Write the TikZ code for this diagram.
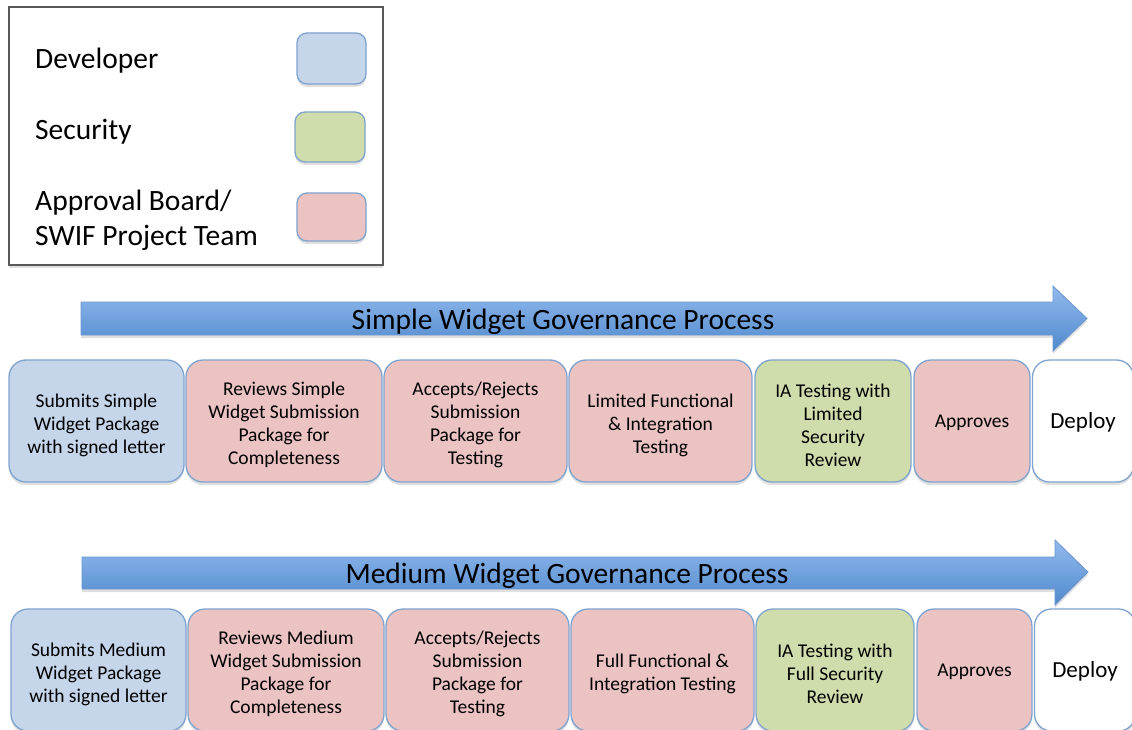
\documentclass[tikz,border=0pt]{standalone}
\usepackage{fontspec}
\setmainfont{Carlito}
\usetikzlibrary{shadows}
\definecolor{devfill}{HTML}{C5D5EA}
\definecolor{secfill}{HTML}{CFDDAC}
\definecolor{appfill}{HTML}{EBC3C3}
\definecolor{edgeblue}{HTML}{7FA3CF}
\definecolor{arrtop}{HTML}{92BAEE}
\definecolor{arrbot}{HTML}{5089CC}
\definecolor{arredge}{HTML}{6A96CF}
\begin{document}
\begin{tikzpicture}[x=1pt,y=-1pt,
  softshadow/.style={drop shadow={opacity=0.25,shadow xshift=0pt,shadow yshift=-3pt}},
  stepbox/.style={draw=edgeblue,line width=1.3pt,rounded corners=17pt,inner sep=0pt,minimum height=122pt,softshadow},
  steptext/.style={align=center,font=\fontsize{19.5}{23}\selectfont,inner sep=0pt,yshift=-4pt},
  onetext/.style={align=center,font=\fontsize{19.5}{23}\selectfont,inner sep=0pt,yshift=-2pt},
  deptext/.style={align=center,font=\fontsize{23}{27}\selectfont,inner sep=0pt,yshift=-1pt},
  swatch/.style={draw=edgeblue,line width=1.3pt,rounded corners=10pt,inner sep=0pt,softshadow},
  legtext/.style={anchor=west,align=left,font=\fontsize{29.5}{35}\selectfont,inner sep=0pt},
  arrtext/.style={font=\fontsize{29.5}{34}\selectfont,inner sep=0pt},
  dev/.style={stepbox,fill=devfill},
  sec/.style={stepbox,fill=secfill},
  app/.style={stepbox,fill=appfill},
  dep/.style={stepbox,fill=white},
  govarrow/.style={top color=arrtop,bottom color=arrbot,draw=arredge,line width=0.8pt,softshadow}
]
\useasboundingbox (0,0) rectangle (1132,730);
\begin{scope}
\clip (0,0) rectangle (1132,730);

% Legend
\node[draw=black!65,line width=1.3pt,fill=white,minimum width=374pt,minimum height=258pt,inner sep=0pt,softshadow] (legend) at (196,136) {};
\node[legtext] (ldev) at (35,61) {Developer};
\node[legtext] (lsec) at (35,132) {Security};
\node[legtext] (lapp) at (35,220) {Approval Board/\\SWIF Project Team};
\node[swatch,fill=devfill,minimum width=69pt,minimum height=51pt] (sdev) at (331.5,58.5) {};
\node[swatch,fill=secfill,minimum width=70pt,minimum height=50pt] (ssec) at (330,137) {};
\node[swatch,fill=appfill,minimum width=69pt,minimum height=48pt] (sapp) at (331.5,217) {};

% Arrow 1
\path[govarrow] (81,302) -- (1053,302) -- (1053,286) -- (1087,318.5) -- (1053,351) -- (1053,335) -- (81,335) -- cycle;
\node[arrtext] (t1) at (563,322) {Simple Widget Governance Process};

% Row 1
\node[dev,minimum width=175pt] (s1) at (96.5,421) {};
\node[app,minimum width=196pt] (s2) at (284,421) {};
\node[app,minimum width=183pt] (s3) at (475.5,421) {};
\node[app,minimum width=183pt] (s4) at (660.5,421) {};
\node[sec,minimum width=156pt] (s5) at (833,421) {};
\node[app,minimum width=116pt] (s6) at (972,421) {};
\node[dep,minimum width=101pt] (s7) at (1083,421) {};
\node[steptext] (s1t) at (s1) {Submits Simple\\Widget Package\\with signed letter};
\node[steptext] (s2t) at (s2) {Reviews Simple\\Widget Submission\\Package for\\Completeness};
\node[steptext] (s3t) at (s3) {Accepts/Rejects\\Submission\\Package for\\Testing};
\node[steptext] (s4t) at (s4) {Limited Functional\\\& Integration\\Testing};
\node[steptext] (s5t) at (s5) {IA Testing with\\Limited\\Security\\Review};
\node[onetext] (s6t) at (s6) {Approves};
\node[deptext] (s7t) at (s7) {Deploy};

% Arrow 2
\path[govarrow] (82,557) -- (1055,557) -- (1055,540) -- (1088,572) -- (1055,605) -- (1055,589) -- (82,589) -- cycle;
\node[arrtext] (t2) at (567,576) {Medium Widget Governance Process};

% Row 2
\node[dev,minimum width=175pt] (m1) at (98.5,670) {};
\node[app,minimum width=196pt] (m2) at (286,670) {};
\node[app,minimum width=183pt] (m3) at (477.5,670) {};
\node[app,minimum width=183pt] (m4) at (662.5,670) {};
\node[sec,minimum width=158pt] (m5) at (835,670) {};
\node[app,minimum width=115pt] (m6) at (974.5,670) {};
\node[dep,minimum width=101pt] (m7) at (1085,670) {};
\node[steptext] (m1t) at (m1) {Submits Medium\\Widget Package\\with signed letter};
\node[steptext] (m2t) at (m2) {Reviews Medium\\Widget Submission\\Package for\\Completeness};
\node[steptext] (m3t) at (m3) {Accepts/Rejects\\Submission\\Package for\\Testing};
\node[steptext] (m4t) at (m4) {Full Functional \&\\Integration Testing};
\node[steptext] (m5t) at (m5) {IA Testing with\\Full Security\\Review};
\node[onetext] (m6t) at (m6) {Approves};
\node[deptext] (m7t) at (m7) {Deploy};
\end{scope}
\end{tikzpicture}
\end{document}
